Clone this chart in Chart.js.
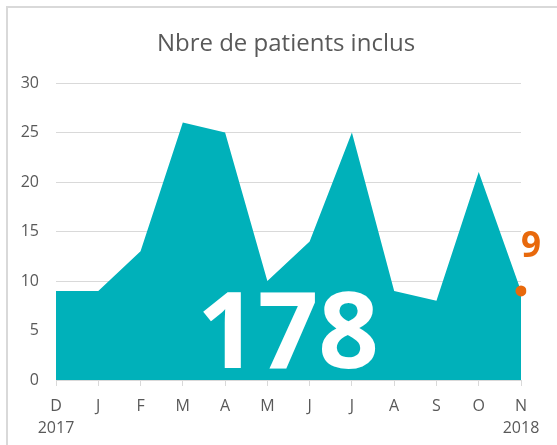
<!DOCTYPE html>
<html>
<head>
<meta charset="utf-8">
<script src="https://cdn.jsdelivr.net/npm/chart.js@4"></script>
<style>
  html, body { margin: 0; padding: 0; background: #fff; }
  #wrap { width: 557px; height: 445px; position: relative; }
</style>
</head>
<body>
<div id="wrap"><canvas id="chart" width="557" height="445"></canvas></div>
<script>
/* DATA */
const title = "Nbre de patients inclus";
const months = ["D", "J", "F", "M", "A", "M", "J", "J", "A", "S", "O", "N"];
const years = ["2017", "", "", "", "", "", "", "", "", "", "", "2018"];
const patients = [9, 9, 13, 26, 25, 10, 14, 25, 9, 8, 21, 9];
const yTicks = [0, 5, 10, 15, 20, 25, 30];

const TEAL = "#00B1BA";
const ORANGE = "#E8690C";
const GREY = "#595959";
const FONT = "'Open Sans', sans-serif";

const total = patients.reduce((a, b) => a + b, 0);
const last = patients.length - 1;

/* PLUGIN: frame, title, big total, last value label */
const overlay = {
  id: "overlay",
  beforeDraw(chart) {
    const c = chart.ctx;
    c.save();
    c.strokeStyle = "#d9d9d9";
    c.lineWidth = 2;
    c.beginPath();
    c.moveTo(7, 445);
    c.lineTo(7, 7);
    c.lineTo(557, 7);
    c.stroke();

    c.fillStyle = GREY;
    c.font = "24px " + FONT;
    c.textAlign = "center";
    c.textBaseline = "middle";
    c.fillText(title, 286, 44);
    c.restore();
  },
  afterDatasetsDraw(chart) {
    const c = chart.ctx;
    const x = chart.scales.x;
    const y = chart.scales.y;
    c.save();
    c.fillStyle = "#fff";
    c.font = "bold 106px " + FONT;
    c.textAlign = "center";
    c.textBaseline = "alphabetic";
    c.fillText(String(total), 288, 368);

    const px = x.getPixelForValue(last);
    const py = y.getPixelForValue(patients[last]);
    c.fillStyle = ORANGE;
    c.font = "bold 35px " + FONT;
    c.fillText(String(patients[last]), px + 10, py - 34);
    c.restore();
  }
};

new Chart(document.getElementById("chart"), {
  type: "line",
  data: {
    labels: months.map((m, i) => [m, years[i]]),
    datasets: [{
      data: patients,
      fill: "origin",
      backgroundColor: TEAL,
      borderColor: TEAL,
      borderWidth: 0,
      tension: 0,
      pointRadius: patients.map((v, i) => i === last ? 5.5 : 0),
      pointBackgroundColor: ORANGE,
      pointBorderWidth: 0
    }]
  },
  options: {
    responsive: false,
    animation: false,
    layout: { padding: { top: 83, right: 36, left: 0, bottom: 0 } },
    plugins: {
      legend: { display: false },
      tooltip: { enabled: false },
      title: { display: false }
    },
    scales: {
      x: {
        offset: false,
        grid: {
          drawOnChartArea: false,
          drawTicks: true,
          tickLength: 6,
          color: "#d9d9d9"
        },
        border: { display: true, color: "#d9d9d9" },
        ticks: {
          color: GREY,
          autoSkip: false,
          maxRotation: 0,
          padding: 9,
          font: { family: FONT, size: 16, lineHeight: 1.4 }
        },
        afterFit(s) { s.height = 65; }
      },
      y: {
        min: 0,
        max: 30,
        afterBuildTicks(s) { s.ticks = yTicks.map(v => ({ value: v })); },
        grid: { color: "#d9d9d9", drawTicks: false },
        border: { display: false },
        ticks: {
          color: GREY,
          padding: 17,
          font: { family: FONT, size: 16 }
        },
        afterFit(s) { s.width = 56; }
      }
    }
  },
  plugins: [overlay]
});
</script>
</body>
</html>
